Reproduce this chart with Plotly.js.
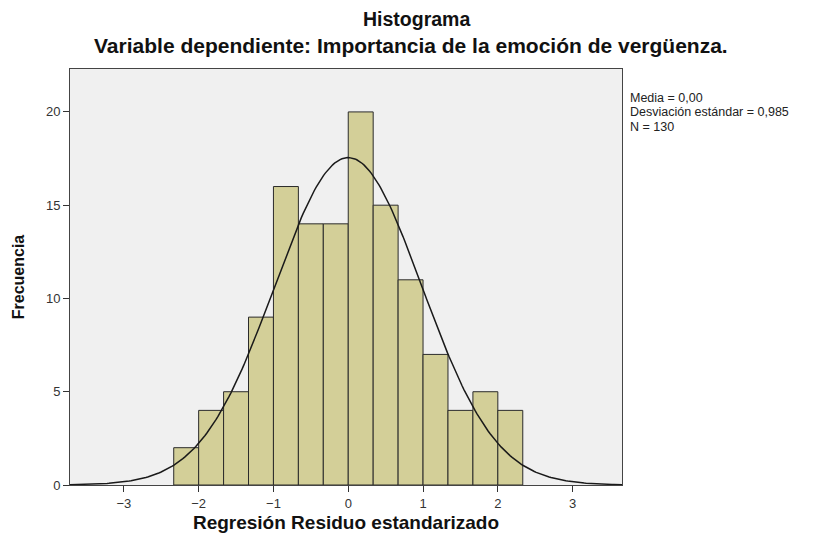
<!DOCTYPE html>
<html>
<head>
<meta charset="utf-8">
<script src="https://cdn.plot.ly/plotly-3.0.1.min.js"></script>
<style>html,body{margin:0;padding:0;background:#fff;}#chart{width:818px;height:536px;}</style>
</head>
<body>
<div id="chart"></div>
<script>
// Bin centres (width 1/3) and counts
var binCenters = [-13/6, -11/6, -9/6, -7/6, -5/6, -3/6, -1/6, 1/6, 3/6, 5/6, 7/6, 9/6, 11/6, 13/6];
var counts = [2, 4, 5, 9, 16, 14, 14, 20, 15, 11, 7, 4, 5, 4];
var binWidth = 1/3;
// Summary statistics printed on the chart
var mean = 0.00;
var sd = 0.985;
var n = 130;
var xTicks = [-3, -2, -1, 0, 1, 2, 3];
var yTicks = [0, 5, 10, 15, 20];
var statLines = ['Media = 0,00', 'Desviación estándar = 0,985', 'N = 130'];

// Fitted normal curve (as drawn by SPSS) from the printed statistics
var curveX = [], curveY = [];
for (var i = 0; i <= 300; i++) {
  var x = -3.72 + 7.42 * i / 300;
  curveX.push(x);
  curveY.push(n * binWidth / (sd * Math.sqrt(2 * Math.PI)) * Math.exp(-0.5 * Math.pow((x - mean) / sd, 2)));
}

var traces = [
  {
    type: 'bar', x: binCenters, y: counts, width: binWidth,
    marker: {color: '#d3cf98', line: {color: '#2b2b2b', width: 1}},
    hoverinfo: 'x+y', showlegend: false
  },
  {
    type: 'scatter', mode: 'lines', x: curveX, y: curveY,
    line: {color: '#1a1a1a', width: 1.5}, showlegend: false, hoverinfo: 'skip'
  }
];

var statText = statLines.map(function (t) { return '<span style="font-size:12.5px">' + t + '</span>'; }).join('<br>');

var annotations = [
  {text: '<b>Histograma</b>', xref: 'paper', yref: 'paper', x: 0.628, y: 1, yshift: 50,
   xanchor: 'center', yanchor: 'middle', showarrow: false, font: {size: 19.5, color: '#111'}},
  {text: '<b>Variable dependiente: Importancia de la emoción de vergüenza.</b>', xref: 'paper', yref: 'paper',
   x: 0.618, y: 1, yshift: 24, xanchor: 'center', yanchor: 'middle', showarrow: false, font: {size: 21, color: '#111'}},
  {text: statText, xref: 'paper', yref: 'paper', x: 1, xshift: 6, y: 1, yshift: -20,
   xanchor: 'left', yanchor: 'top', align: 'left', showarrow: false, font: {size: 11, color: '#222'}}
];

var layout = {
  width: 818, height: 536,
  paper_bgcolor: '#ffffff', plot_bgcolor: '#f0f0f0',
  margin: {l: 70, r: 196, t: 69, b: 51},
  font: {family: 'Liberation Sans, Arial, sans-serif', color: '#222'},
  bargap: 0,
  xaxis: {
    range: [-3.72, 3.66], tickvals: xTicks, ticks: 'outside', ticklen: 6, tickcolor: '#333',
    showgrid: false, zeroline: false, showline: true, linecolor: '#444', linewidth: 1, mirror: true,
    tickfont: {size: 13, color: '#333'},
    title: {text: '<b>Regresión Residuo estandarizado</b>', font: {size: 19, color: '#111'}, standoff: 6}
  },
  yaxis: {
    range: [0, 22.3], tickvals: yTicks, ticks: 'outside', ticklen: 6, tickcolor: '#333',
    showgrid: false, zeroline: false, showline: true, linecolor: '#444', linewidth: 1, mirror: true,
    tickfont: {size: 13, color: '#333'},
    title: {text: '<b>Frecuencia</b>', font: {size: 16, color: '#111'}, standoff: 17}
  },
  annotations: annotations
};

Plotly.newPlot('chart', traces, layout, {displayModeBar: false, staticPlot: true});
</script>
</body>
</html>
